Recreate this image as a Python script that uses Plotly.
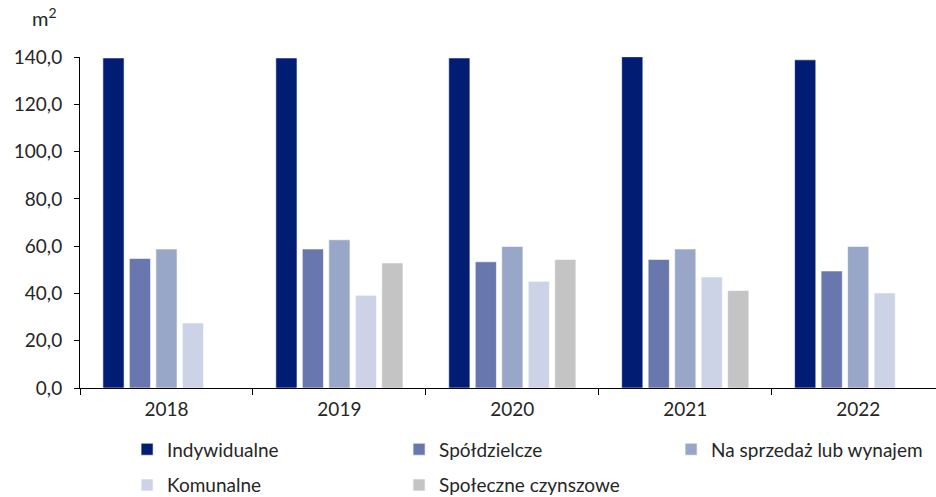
import plotly.graph_objects as go

years = ["2018", "2019", "2020", "2021", "2022"]

series_names = [
    "Indywidualne",
    "Spółdzielcze",
    "Na sprzedaż lub wynajem",
    "Komunalne",
    "Społeczne czynszowe",
]

indywidualne = [139.6, 139.6, 139.6, 140.1, 138.8]
spoldzielcze = [54.8, 58.8, 53.4, 54.4, 49.5]
na_sprzedaz = [58.8, 62.7, 59.9, 58.8, 59.9]
komunalne = [27.5, 39.2, 45.1, 47.0, 40.2]
spoleczne = [None, 52.9, 54.4, 41.2, None]

values = [indywidualne, spoldzielcze, na_sprzedaz, komunalne, spoleczne]
colors = ["#001C73", "#6877AD", "#98A6C8", "#CDD3E6", "#C4C4C4"]
legend_ids = ["legend", "legend", "legend", "legend2", "legend2"]

FONT = "Lato"
TEXT_COLOR = "#262626"
TICK_SIZE = 19
LEGEND_SIZE = 19

fig = go.Figure()
for name, vals, col, lg in zip(series_names, values, colors, legend_ids):
    fig.add_trace(go.Bar(
        x=years, y=vals, name=name,
        marker=dict(color=col, line=dict(color="rgba(255,255,255,0.6)", width=1)),
        legend=lg,
    ))

legend_common = dict(
    orientation="h", xanchor="left", yanchor="top",
    entrywidth=227, entrywidthmode="pixels",
    font=dict(family=FONT, size=LEGEND_SIZE, color=TEXT_COLOR),
    bgcolor="rgba(0,0,0,0)", itemclick=False, itemdoubleclick=False,
)

fig.update_layout(
    width=936, height=497,
    margin=dict(l=80, r=0, t=57, b=109, autoexpand=False),
    paper_bgcolor="white", plot_bgcolor="white",
    barmode="group", bargap=0.234, bargroupgap=0.2,
    separators=", ",
    font=dict(family=FONT, size=TICK_SIZE, color=TEXT_COLOR),
    xaxis=dict(
        type="category", range=[-0.5, 4.45],
        tickson="boundaries", ticks="outside", ticklen=6, tickcolor="#000",
        showline=True, linecolor="#000", linewidth=1,
        showgrid=False, zeroline=False,
        ticklabelstandoff=4,
        tickfont=dict(family=FONT, size=TICK_SIZE, color=TEXT_COLOR),
    ),
    yaxis=dict(
        range=[0, 140], dtick=20, tickformat=".1f",
        ticks="outside", ticklen=5, tickcolor="#000",
        showline=True, linecolor="#000", linewidth=1,
        showgrid=False, zeroline=False,
        ticklabelstandoff=8,
        tickfont=dict(family=FONT, size=TICK_SIZE, color=TEXT_COLOR),
    ),
    legend=dict(x=0.055, y=-0.128, **legend_common),
    legend2=dict(x=0.055, y=-0.236, **legend_common),
    showlegend=True,
)

fig.add_annotation(
    text="m<sup>2</sup>", xref="paper", yref="paper",
    x=-0.024, y=1.075, xanchor="right", yanchor="bottom", showarrow=False,
    font=dict(family=FONT, size=20, color=TEXT_COLOR),
)

fig.write_html("out.html")
